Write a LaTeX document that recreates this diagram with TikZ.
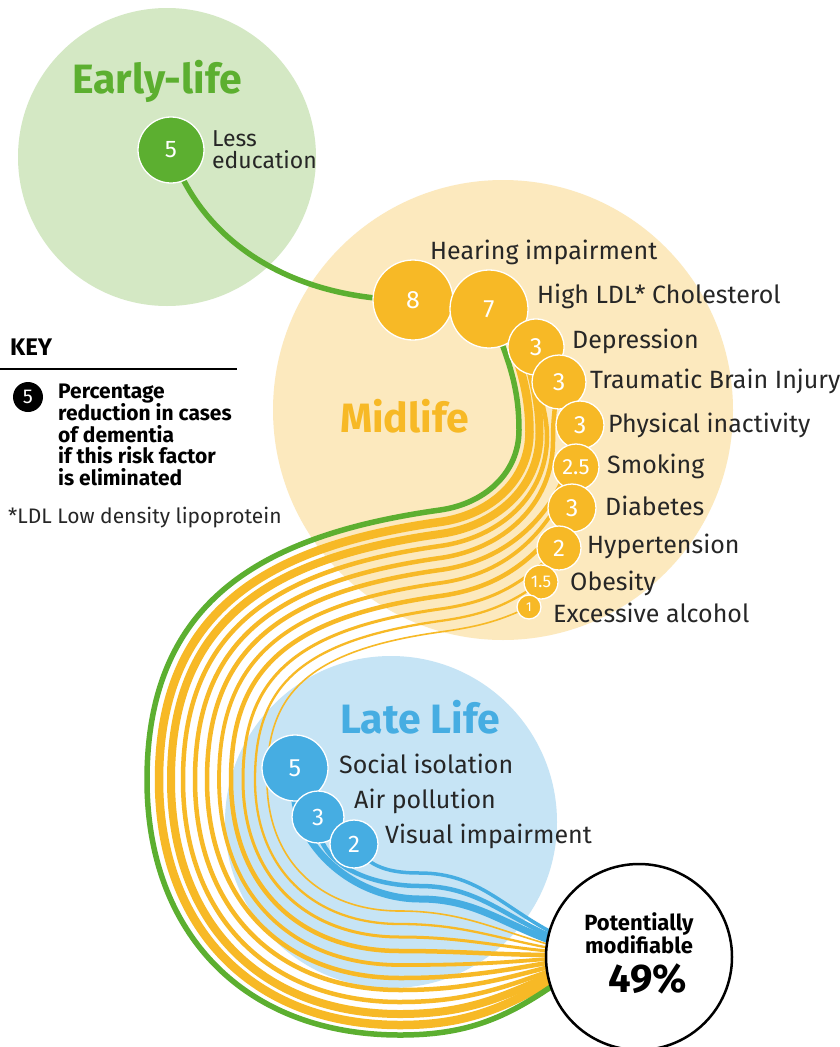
\documentclass[tikz,border=0pt]{standalone}
\usepackage{fontspec}
\setmainfont{Fira Sans}
\pgfdeclarelayer{bg}
\pgfdeclarelayer{flow}
\pgfsetlayers{bg,flow,main}
\definecolor{lgreen}{HTML}{D4E8C4}
\definecolor{dgreen}{HTML}{5CAF30}
\definecolor{lyellow}{HTML}{FCE9BE}
\definecolor{orng}{HTML}{F7B926}
\definecolor{lblue}{HTML}{C6E4F5}
\definecolor{dblue}{HTML}{46ADE2}
\definecolor{txt}{HTML}{262626}
\begin{document}
\begin{tikzpicture}[x=1pt,y=-1pt,
  lbl/.style={anchor=base west, inner sep=0pt, text=txt, font=\fontsize{25}{30}\selectfont},
  ttl/.style={anchor=base west, inner sep=0pt, font=\fontsize{41}{48}\selectfont\bfseries},
  keytxt/.style={anchor=base west, inner sep=0pt, text=black, font=\fontsize{21}{25}\selectfont\bfseries},
  bub/.style={circle, draw=white, line width=1.3pt, text=white, inner sep=0pt, minimum size=#1},
  obub/.style={bub=#1, fill=orng},
  gbub/.style={bub=#1, fill=dgreen},
  bbub/.style={bub=#1, fill=dblue},
  fs/.style={font=\fontsize{#1}{#1}\selectfont},
  flw/.style={line cap=butt, line join=round},
  ofl/.style={flw, draw=orng, line width=#1},
  bfl/.style={flw, draw=dblue, line width=#1},
  gfl/.style={flw, draw=dgreen, line width=#1}]
\useasboundingbox (0,0) rectangle (839,1047);

\begin{pgfonlayer}{bg}
\fill[white] (0,0) rectangle (839,1047);
\fill[lgreen] (167,157) circle[radius=149pt];
\fill[lyellow] (503,410) circle[radius=230pt];
\fill[lblue] (391,822) circle[radius=166pt];
\end{pgfonlayer}

% titles
\node[ttl, text=dgreen] (tearly) at (72,93) {Early-life};
\node[ttl, text=orng] (tmid) at (340,432) {Midlife};
\node[ttl, text=dblue] (tlate) at (340,733) {Late Life};

% bubbles
\node[gbub=66pt, fs=24] (n5) at (171,150) {5};
\node[obub=80pt, fs=25] (c8) at (413,300) {8};
\node[obub=78pt, fs=25] (c7) at (489,309) {7};
\node[obub=56pt, fs=25] (cdep) at (536,347) {3};
\node[obub=54pt, fs=25] (ctbi) at (559,382) {3};
\node[obub=48pt, fs=25] (cpi) at (580,425) {3};
\node[obub=46pt, fs=22] (csmk) at (576,467) {2.5};
\node[obub=48pt, fs=25] (cdia) at (572,508) {3};
\node[obub=44pt, fs=24] (chyp) at (559,548) {2};
\node[obub=34pt, fs=17] (cob) at (541,582) {1.5};
\node[obub=24pt, fs=13] (calc) at (529,607) {1};
\node[bbub=66pt, fs=25] (cso) at (295,768) {5};
\node[bbub=52pt, fs=24] (cap) at (318,817) {3};
\node[bbub=48pt, fs=24] (cvi) at (354,844) {2};

% labels
\node[lbl, align=left, font=\fontsize{23}{22}\selectfont] (ledu) at (212,168) {Less\\education};
\node[lbl] (lhear) at (430,259) {Hearing impairment};
\node[lbl] (lldl) at (537,303) {High LDL* Cholesterol};
\node[lbl] (ldep) at (572,348) {Depression};
\node[lbl] (ltbi) at (590,388) {Traumatic Brain Injury};
\node[lbl] (lpi) at (608,432) {Physical inactivity};
\node[lbl] (lsmk) at (607,473) {Smoking};
\node[lbl] (ldia) at (605,515) {Diabetes};
\node[lbl] (lhyp) at (587,553) {Hypertension};
\node[lbl] (lob) at (570,590) {Obesity};
\node[lbl] (lalc) at (553,622) {Excessive alcohol};
\node[lbl] (lso) at (339,773) {Social isolation};
\node[lbl] (lap) at (354,808) {Air pollution};
\node[lbl] (lvi) at (385,843) {Visual impairment};

% result
\node[circle, draw=black, line width=2.5pt, fill=white, minimum size=186pt, inner sep=0pt] (res) at (639,957) {};
\node[anchor=base, inner sep=0pt, font=\fontsize{22}{26}\selectfont\bfseries] (pot) at (639,930) {Potentially};
\node[anchor=base, inner sep=0pt, font=\fontsize{22}{26}\selectfont\bfseries] (mod) at (639,953) {modifiable};
\node[anchor=base, inner sep=0pt, font=\fontsize{40}{44}\selectfont\bfseries] (pct) at (648,992) {49\%};

% key
\node[anchor=base west, inner sep=0pt, font=\fontsize{24}{28}\selectfont\bfseries] (key) at (10,355) {KEY};
\coordinate (kl0) at (0,369);
\coordinate (kl1) at (237,369);
\draw[line width=2pt] (kl0) -- (kl1);
\node[circle, fill=black, minimum size=30pt, inner sep=0pt, text=white, fs=20] (kc) at (28,397) {5};
\node[keytxt] (k1) at (58,398) {Percentage};
\node[keytxt] (k2) at (58,420) {reduction in cases};
\node[keytxt] (k3) at (58,442) {of dementia};
\node[keytxt] (k4) at (58,463) {if this risk factor};
\node[keytxt] (k5) at (58,485) {is eliminated};
\node[lbl, font=\fontsize{21}{25}\selectfont] (note) at (8,523) {*LDL Low density lipoprotein};

% flow waypoints
\coordinate (gU) at (519,430); \coordinate (gA) at (440,510); \coordinate (gB) at (147,780); \coordinate (gC) at (400,1035); \coordinate (gD) at (558,982);
\coordinate (hU) at (529.5,432); \coordinate (hA) at (440,522); \coordinate (hB) at (159,780); \coordinate (hC) at (400,1025); \coordinate (hD) at (558,977);
\coordinate (lU) at (539.5,434); \coordinate (lA) at (440,534); \coordinate (lB) at (171,780); \coordinate (lC) at (400,1014); \coordinate (lD) at (558,972);
\coordinate (dU) at (547,437); \coordinate (dA) at (440,546); \coordinate (dB) at (183,780); \coordinate (dC) at (400,1002); \coordinate (dD) at (558,968);
\coordinate (tU) at (553,441); \coordinate (tA) at (440,558); \coordinate (tB) at (195,780); \coordinate (tC) at (400,990); \coordinate (tD) at (558,964.5);
\coordinate (pA) at (440,570); \coordinate (pB) at (207,780); \coordinate (pC) at (400,978); \coordinate (pD) at (558,961);
\coordinate (sA) at (440,583); \coordinate (sB) at (219,780); \coordinate (sC) at (400,965); \coordinate (sD) at (558,958);
\coordinate (iA) at (440,596); \coordinate (iB) at (231,780); \coordinate (iC) at (400,951); \coordinate (iD) at (558,955);
\coordinate (yA) at (440,609); \coordinate (yB) at (243,780); \coordinate (yC) at (400,937); \coordinate (yD) at (558,952);
\coordinate (oA) at (440,621); \coordinate (oB) at (255,780); \coordinate (oC) at (400,924); \coordinate (oD) at (558,949.5);
\coordinate (aA) at (440,632); \coordinate (aB) at (267,780); \coordinate (aC) at (400,911); \coordinate (aD) at (558,947);
\coordinate (v5C) at (420,899); \coordinate (v5D) at (558,943);
\coordinate (v3C) at (420,886); \coordinate (v3D) at (558,939);
\coordinate (v2C) at (420,873); \coordinate (v2D) at (558,935.5);

\begin{pgfonlayer}{flow}
% orange flows (angles in canvas orientation: 270 = down on the page)
\draw[ofl=8.5pt] (c8.center) -- (505,318) to[out=285,in=90] (hU) to[out=270,in=8] (hA)
  to[out=188,in=90,out looseness=1.195,in looseness=1.125] (hB) to[out=270,in=180,looseness=1.1] (hC) to[out=0,in=210] (hD);
\draw[ofl=8pt] (c7.center) -- (522,332) to[out=280,in=90] (lU) to[out=270,in=8] (lA)
  to[out=188,in=90,out looseness=1.24,in looseness=1.1] (lB) to[out=270,in=180,looseness=1.1] (lC) to[out=0,in=205] (lD);
\draw[ofl=4.5pt] (cdep.center) to[out=260,in=90] (dU) to[out=270,in=8] (dA)
  to[out=188,in=90,out looseness=1.285,in looseness=1.075] (dB) to[out=270,in=180,looseness=1.1] (dC) to[out=0,in=200] (dD);
\draw[ofl=4.5pt] (ctbi.center) to[out=260,in=90] (tU) to[out=270,in=8] (tA)
  to[out=188,in=90,out looseness=1.33,in looseness=1.05] (tB) to[out=270,in=180,looseness=1.1] (tC) to[out=0,in=195] (tD);
\draw[ofl=4.5pt] (cpi.center) to[out=260,in=8] (pA)
  to[out=188,in=90,out looseness=1.375,in looseness=1.025] (pB) to[out=270,in=180,looseness=1.1] (pC) to[out=0,in=190] (pD);
\draw[ofl=3.8pt] (csmk.center) to[out=248,in=8] (sA)
  to[out=188,in=90,out looseness=1.42,in looseness=1.0] (sB) to[out=270,in=180,looseness=1.1] (sC) to[out=0,in=185] (sD);
\draw[ofl=4.5pt] (cdia.center) to[out=235,in=8] (iA)
  to[out=188,in=90,out looseness=1.465,in looseness=0.975] (iB) to[out=270,in=180,looseness=1.1] (iC) to[out=0,in=180] (iD);
\draw[ofl=3pt] (chyp.center) to[out=225,in=8] (yA)
  to[out=188,in=90,out looseness=1.51,in looseness=0.95] (yB) to[out=270,in=180,looseness=1.1] (yC) to[out=0,in=175] (yD);
\draw[ofl=2.3pt] (cob.center) to[out=215,in=8] (oA)
  to[out=188,in=90,out looseness=1.555,in looseness=0.925] (oB) to[out=270,in=180,looseness=1.1] (oC) to[out=0,in=170] (oD);
\draw[ofl=1.6pt] (calc.center) to[out=205,in=8] (aA)
  to[out=188,in=90,out looseness=1.6,in looseness=0.9] (aB) to[out=270,in=180,looseness=1.1] (aC) to[out=0,in=165] (aD);
% green flow
\draw[gfl=5.5pt] (n5.center) .. controls (200,240) and (290,300) .. (c8.center) -- (c7.center)
  to[out=290,in=90] (gU) to[out=270,in=8] (gA)
  to[out=188,in=90,looseness=1.15] (gB) to[out=270,in=180,looseness=1.1] (gC) to[out=0,in=215] (gD);
% blue flows
\draw[bfl=7pt] (cso.center) to[out=260,in=180] (v5C) to[out=0,in=162] (v5D);
\draw[bfl=4.5pt] (cap.center) to[out=265,in=180] (v3C) to[out=0,in=158] (v3D);
\draw[bfl=3.5pt] (cvi.center) to[out=300,in=180] (v2C) to[out=0,in=154] (v2D);
\end{pgfonlayer}
\end{tikzpicture}
\end{document}
